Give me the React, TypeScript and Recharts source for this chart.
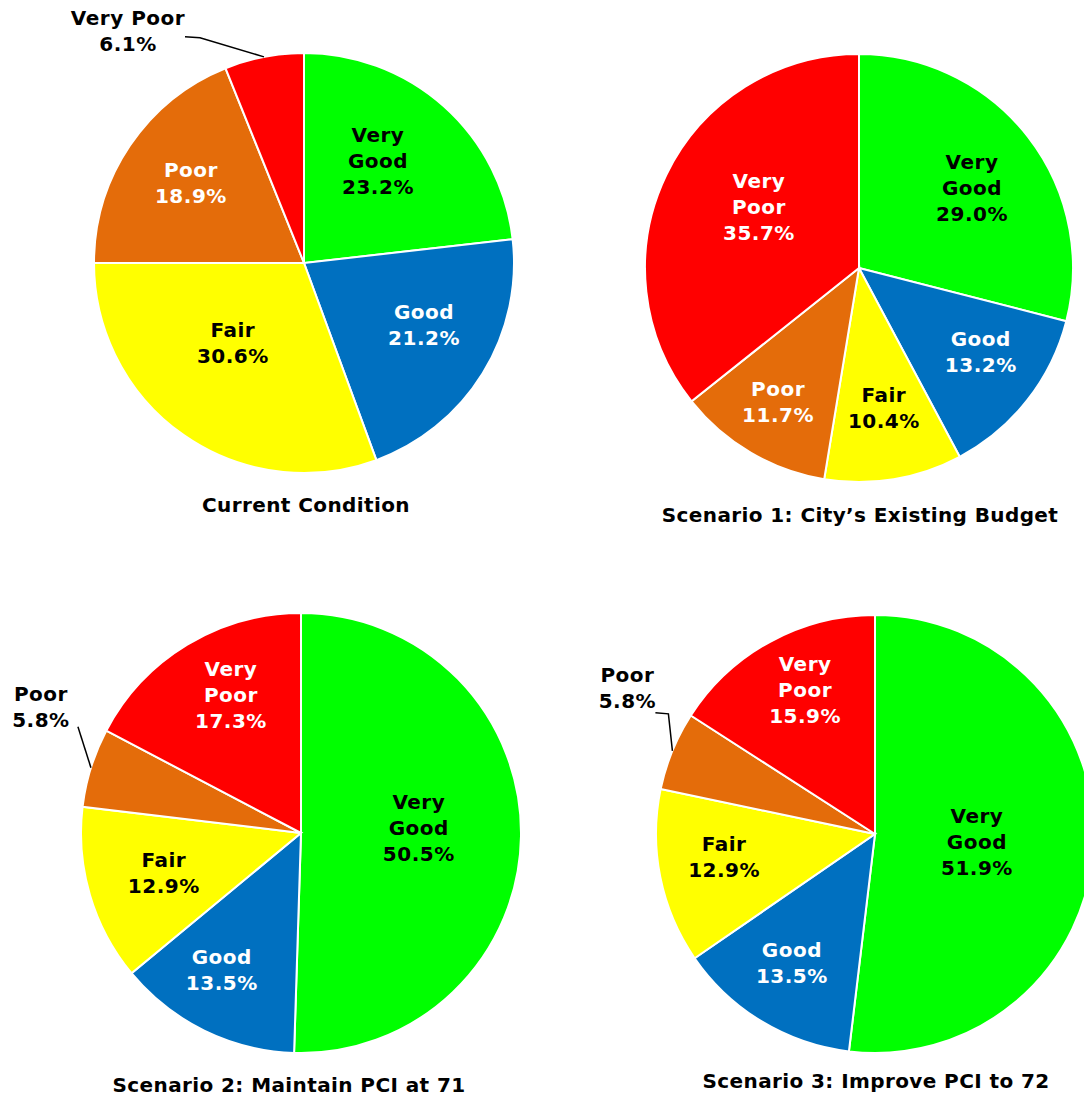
import { PieChart, Pie, Cell } from 'recharts'

const categories = ['Very Good', 'Good', 'Fair', 'Poor', 'Very Poor']
const currentCondition = [23.2, 21.2, 30.6, 18.9, 6.1]
const scenario1 = [29.0, 13.2, 10.4, 11.7, 35.7]
const scenario2 = [50.5, 13.5, 12.9, 5.8, 17.3]
const scenario3 = [51.9, 13.5, 12.9, 5.8, 15.9]
const titles = [
  'Current Condition',
  'Scenario 1: City\u2019s Existing Budget',
  'Scenario 2: Maintain PCI at 71',
  'Scenario 3: Improve PCI to 72',
]

const COLORS = ['#00FF00', '#0070C0', '#FFFF00', '#E46C0A', '#FF0000']
const TEXT_COLORS = ['#000', '#fff', '#000', '#fff', '#fff']
const FONT = '"DejaVu Sans", Verdana, sans-serif'
const RAD = Math.PI / 180

// layout of each pie: centre, radius, label radius factor + angle nudge per slice, outside label
const PIES = [
  {
    values: currentCondition, cx: 304, cy: 263, r: 210,
    factors: [0.6, 0.643, 0.51, 0.66, 0.6],
    shifts: [-5.8, -4.4, 6.7, 1.3, 0],
    outside: { index: 4, oneLine: true, tx: -136, ty: -26, line: [[-79, -20], [-64, -19]] },
    title: { x: 306, y: 505 },
  },
  {
    values: scenario1, cx: 859, cy: 268, r: 214,
    factors: [0.647, 0.69, 0.665, 0.73, 0.548],
    shifts: [2.5, -3.7, -0.7, 0.8, 5.7],
    outside: null,
    title: { x: 860, y: 515 },
  },
  {
    values: scenario2, cx: 301, cy: 833, r: 220,
    factors: [0.536, 0.72, 0.65, 0.7, 0.703],
    shifts: [-3.3, 3.9, 0, 0, 4.2],
    outside: { index: 3, oneLine: false, tx: -50, ty: -61, line: [[-13, -41]] },
    title: { x: 289, y: 1085 },
  },
  {
    values: scenario3, cx: 875, cy: 834, r: 219,
    factors: [0.467, 0.7, 0.697, 0.7, 0.73],
    shifts: [1.1, 1.7, 2.6, 0, 2.7],
    outside: { index: 3, oneLine: false, tx: -45, ty: -63, line: [[-17, -38], [-4, -37]] },
    title: { x: 876, y: 1081 },
  },
]

function Lines({ x, y, lines, fill }: { x: number; y: number; lines: string[]; fill: string }) {
  return (
    <text x={x} y={y} textAnchor="middle" fill={fill} fontFamily={FONT} fontWeight="bold" fontSize={20} letterSpacing={0.5}>
      {lines.map((l, i) => (
        <tspan key={i} x={x} y={y - (lines.length - 1) * 13 + i * 26} dominantBaseline="central">{l}</tspan>
      ))}
    </text>
  )
}

function makeLabel(p: (typeof PIES)[number]) {
  return (props: any) => {
    const { cx, cy, midAngle, outerRadius, index, value } = props
    const name = categories[index]
    const pct = `${Number(value).toFixed(1)}%`
    const o = p.outside
    if (o && o.index === index) {
      const ex = cx + outerRadius * Math.cos(-midAngle * RAD)
      const ey = cy + outerRadius * Math.sin(-midAngle * RAD)
      const lines = o.oneLine ? [name, pct] : name.split(' ').concat(pct)
      const pts = o.line.map(([dx, dy]) => `${ex + dx},${ey + dy}`).concat(`${ex},${ey}`).join(' ')
      return (
        <g>
          <polyline points={pts} fill="none" stroke="#000" strokeWidth={1.5} />
          <Lines x={ex + o.tx} y={ey + o.ty} lines={lines} fill="#000" />
        </g>
      )
    }
    // clockwise-from-top angle of the slice middle, nudged like the original
    const theta = (90 - midAngle + p.shifts[index]) * RAD
    const d = outerRadius * p.factors[index]
    const x = cx + d * Math.sin(theta)
    const y = cy - d * Math.cos(theta)
    return <Lines x={x} y={y} lines={name.split(' ').concat(pct)} fill={TEXT_COLORS[index]} />
  }
}

export default function App() {
  return (
    <div style={{ position: 'absolute', left: 0, top: 0, width: 1084, height: 1097, background: '#fff', overflow: 'hidden' }}>
      <PieChart width={1084} height={1097} margin={{ top: 0, right: 0, bottom: 0, left: 0 }}>
        {PIES.map((p, pi) => (
          <Pie
            key={pi}
            data={p.values.map((v, i) => ({ name: categories[i], value: v }))}
            dataKey="value"
            nameKey="name"
            cx={p.cx}
            cy={p.cy}
            outerRadius={p.r}
            startAngle={90}
            endAngle={-270}
            stroke="#fff"
            strokeWidth={2}
            labelLine={false}
            label={makeLabel(p)}
            isAnimationActive={false}
          >
            {p.values.map((_, i) => (
              <Cell key={i} fill={COLORS[i]} />
            ))}
          </Pie>
        ))}
      </PieChart>
      {PIES.map((p, pi) => (
        <div
          key={pi}
          style={{
            position: 'absolute', left: p.title.x - 300, top: p.title.y - 12, width: 600,
            textAlign: 'center', fontFamily: FONT, fontWeight: 'bold', fontSize: 20, letterSpacing: 0.4,
            lineHeight: '24px', color: '#000',
          }}
        >
          {titles[pi]}
        </div>
      ))}
    </div>
  )
}
